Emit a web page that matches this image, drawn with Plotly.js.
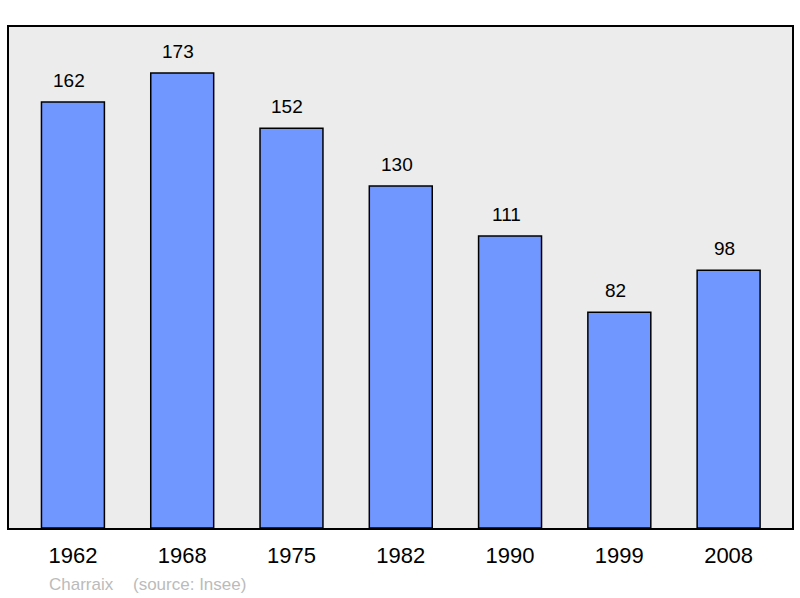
<!DOCTYPE html>
<html>
<head>
<meta charset="utf-8">
<script src="https://cdn.plot.ly/plotly-3.0.1.min.js"></script>
<style>
  html, body { margin: 0; padding: 0; background: #fff; }
  #chart { width: 800px; height: 598px; }
</style>
</head>
<body>
<div id="chart"></div>
<script>
// Population of Charraix by census year
const years = ["1962", "1968", "1975", "1982", "1990", "1999", "2008"];
const population = [162, 173, 152, 130, 111, 82, 98];

const FONT = "Liberation Sans, Arial, sans-serif";

// category axis: numeric-looking strings in annotations get read as indices, so use the index
const labels = years.map((yr, i) => ({
  x: i, y: population[i], xref: "x", yref: "y",
  text: String(population[i]), showarrow: false,
  yanchor: "bottom", yshift: 9, xshift: -4,
  font: { family: FONT, size: 19, color: "#000" },
}));

const footer = [
  { text: "Charraix", x: 47 },
  { text: "(source: Insee)", x: 131 },
].map((f) => ({
  text: f.text, showarrow: false, xref: "paper", yref: "paper",
  x: (f.x - 9) / 783, y: -0.112, xanchor: "left", yanchor: "middle",
  font: { family: FONT, size: 17, color: "#bbbbbb" },
}));

Plotly.newPlot(
  "chart",
  [{
    x: years, y: population, type: "bar",
    width: 0.576,
    marker: { color: "#7096ff", line: { color: "#000", width: 1.5 } },
    hoverinfo: "skip",
  }],
  {
    width: 800, height: 598,
    margin: { l: 9, r: 8, t: 27, b: 70 },
    paper_bgcolor: "#ffffff",
    plot_bgcolor: "#ececec",
    showlegend: false,
    font: { family: FONT, color: "#000" },
    xaxis: {
      type: "category", range: [-0.585, 6.58],
      showline: true, mirror: true, linecolor: "#000", linewidth: 2,
      showgrid: false, ticks: "", ticklen: 0, ticklabelstandoff: 7,
      tickfont: { family: FONT, size: 22, color: "#000" },
    },
    yaxis: {
      range: [0, 190.5], showticklabels: false, showgrid: false, zeroline: false,
      showline: true, mirror: true, linecolor: "#000", linewidth: 2, ticks: "",
    },
    annotations: [...labels, ...footer],
  },
  { displayModeBar: false, staticPlot: true },
);
</script>
</body>
</html>
